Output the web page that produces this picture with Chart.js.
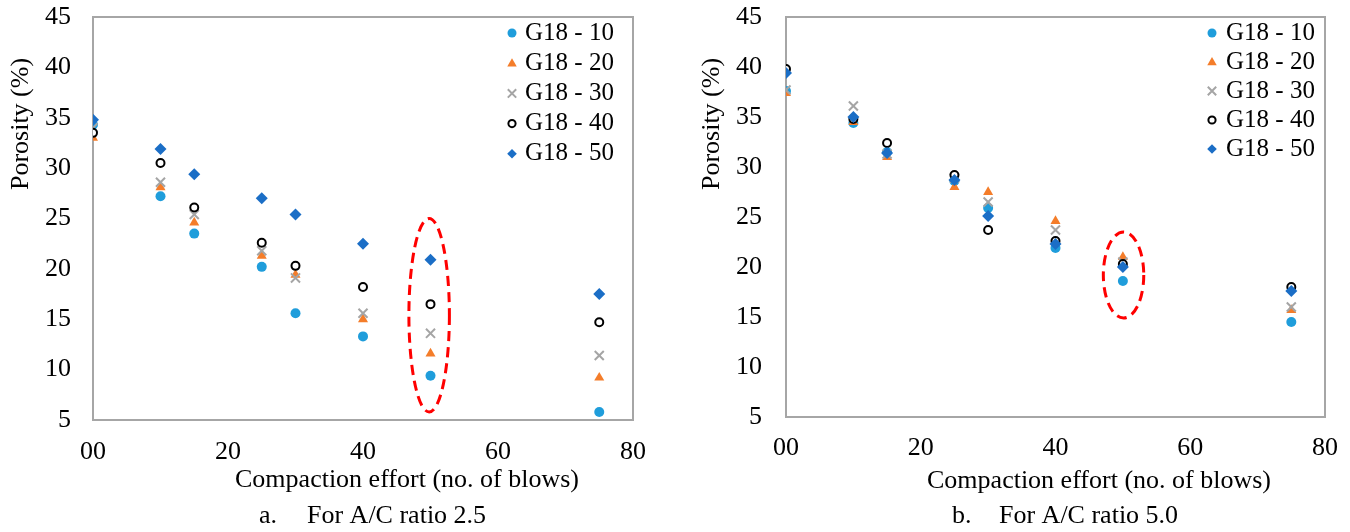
<!DOCTYPE html>
<html>
<head>
<meta charset="utf-8">
<script src="https://cdn.jsdelivr.net/npm/chart.js@4/dist/chart.umd.min.js"></script>
<style>
  html, body { margin: 0; padding: 0; background: #fff; }
  #wrap { position: relative; width: 1350px; height: 532px; }
  .panel { position: absolute; top: 0; width: 675px; height: 532px; }
</style>
</head>
<body>
<div id="wrap">
  <div class="panel" style="left:0"><canvas id="chartA" width="675" height="532"></canvas></div>
  <div class="panel" style="left:675px"><canvas id="chartB" width="675" height="532"></canvas></div>
</div>
<script>
// compaction effort (no. of blows)
const blows = [0, 10, 15, 25, 30, 40, 50, 75];
const seriesNames = ["G18 - 10", "G18 - 20", "G18 - 30", "G18 - 40", "G18 - 50"];
const xTicks = [0, 20, 40, 60, 80];
const xTickLabels = ["00", "20", "40", "60", "80"];

// a. A/C ratio 2.5
const g10A = [34.3, 27.2, 23.5, 20.2, 15.6, 13.3, 9.4, 5.8];
const g20A = [33.0, 28.1, 24.6, 21.3, 19.4, 15.0, 11.6, 9.2];
const g30A = [34.0, 28.6, 25.4, 21.8, 19.1, 15.6, 13.6, 11.4];
const g40A = [33.5, 30.5, 26.1, 22.6, 20.3, 18.2, 16.5, 14.7];
const g50A = [34.8, 31.9, 29.4, 27.0, 25.4, 22.5, 20.9, 17.5];

// b. A/C ratio 5.0
const g10B = [37.6, 34.4, 31.5, 28.6, 25.9, 21.9, 18.6, 14.5];
const g20B = [37.4, 34.5, 31.0, 28.0, 27.5, 24.6, 21.0, 15.7];
const g30B = [37.7, 36.1, 31.3, 28.9, 26.5, 23.7, 20.5, 16.0];
const g40B = [39.8, 34.8, 32.4, 29.2, 23.7, 22.6, 20.3, 18.0];
const g50B = [39.4, 35.0, 31.4, 28.7, 25.1, 22.3, 20.0, 17.6];

// highlighted ovals (data units: centre, half-width, half-height)
const ovalA = { x: 49.8, y: 15.4, rx: 3.0, ry: 9.6 };
const ovalB = { x: 50.1, y: 19.2, rx: 3.0, ry: 4.3 };

const FONT = "'Liberation Serif', 'Times New Roman', serif";

// radius = plot marker, lr = legend marker
const markers = [
  { pointStyle: "circle",   radius: 5.0, lr: 4.5, bg: "#1f9ddb", border: "#1f9ddb", bw: 0 },
  { pointStyle: "triangle", radius: 5.8, lr: 5.0, bg: "#f47d2a", border: "#f47d2a", bw: 0 },
  { pointStyle: "crossRot", radius: 6.4, lr: 6.0, bg: "#a5a5a5", border: "#a5a5a5", bw: 2 },
  { pointStyle: "circle",   radius: 4.0, lr: 3.6, bg: "#ffffff", border: "#000000", bw: 2 },
  { pointStyle: "rectRot",  radius: 6.0, lr: 4.8, bg: "#1b6ec6", border: "#1b6ec6", bw: 0 },
];

function toPoints(ys) {
  return blows.map((b, i) => ({ x: b, y: ys[i] }));
}

function makeDatasets(lists) {
  return lists.map((ys, i) => ({
    label: seriesNames[i],
    data: toPoints(ys),
    pointStyle: markers[i].pointStyle,
    pointRadius: markers[i].radius,
    pointHoverRadius: markers[i].radius,
    pointBackgroundColor: markers[i].bg,
    pointBorderColor: markers[i].border,
    pointBorderWidth: markers[i].bw,
    backgroundColor: markers[i].bg,
    borderColor: markers[i].border,
    order: lists.length - i,
  }));
}

function drawMarker(ctx, m, x, y, r) {
  ctx.save();
  ctx.fillStyle = m.bg;
  ctx.strokeStyle = m.border;
  ctx.lineWidth = m.bw;
  ctx.beginPath();
  if (m.pointStyle === "circle") {
    ctx.arc(x, y, r, 0, Math.PI * 2);
    ctx.fill();
    if (m.bw) ctx.stroke();
  } else if (m.pointStyle === "triangle") {
    ctx.moveTo(x, y - r);
    ctx.lineTo(x + r * 0.95, y + r * 0.65);
    ctx.lineTo(x - r * 0.95, y + r * 0.65);
    ctx.closePath();
    ctx.fill();
  } else if (m.pointStyle === "crossRot") {
    ctx.moveTo(x - r * 0.7, y - r * 0.7); ctx.lineTo(x + r * 0.7, y + r * 0.7);
    ctx.moveTo(x + r * 0.7, y - r * 0.7); ctx.lineTo(x - r * 0.7, y + r * 0.7);
    ctx.stroke();
  } else if (m.pointStyle === "rectRot") {
    ctx.moveTo(x, y - r); ctx.lineTo(x + r, y); ctx.lineTo(x, y + r); ctx.lineTo(x - r, y);
    ctx.closePath();
    ctx.fill();
  }
  ctx.restore();
}

const framePlugin = {
  id: "frame",
  beforeDatasetsDraw(chart) {
    const { ctx, chartArea: a } = chart;
    ctx.save();
    ctx.strokeStyle = "#a6a6a6";
    ctx.lineWidth = 2;
    ctx.strokeRect(a.left, a.top, a.right - a.left, a.bottom - a.top);
    ctx.restore();
  },
  afterDatasetsDraw(chart, args, opts) {
    const { ctx, scales } = chart;
    const o = opts.oval;
    if (!o) return;
    const cx = scales.x.getPixelForValue(o.x);
    const cy = scales.y.getPixelForValue(o.y);
    const rx = Math.abs(scales.x.getPixelForValue(o.x + o.rx) - cx);
    const ry = Math.abs(scales.y.getPixelForValue(o.y + o.ry) - cy);
    ctx.save();
    ctx.strokeStyle = "#ff0000";
    ctx.lineWidth = 3;
    ctx.setLineDash([10, 6]);
    ctx.beginPath();
    ctx.ellipse(cx, cy, rx, ry, 0, 0, Math.PI * 2);
    ctx.stroke();
    ctx.restore();
  },
  afterDraw(chart, args, opts) {
    const { ctx } = chart;
    ctx.save();
    ctx.fillStyle = "#000";
    ctx.textBaseline = "middle";

    // y axis title
    ctx.save();
    ctx.font = "26px " + FONT;
    ctx.translate(opts.yTitle.x, opts.yTitle.y);
    ctx.rotate(-Math.PI / 2);
    ctx.textAlign = "center";
    ctx.fillText("Porosity (%)", 0, 0);
    ctx.restore();

    // x axis title
    ctx.font = "26px " + FONT;
    ctx.textAlign = "center";
    ctx.fillText("Compaction effort (no. of blows)", opts.xTitle.x, opts.xTitle.y);

    // caption
    ctx.textAlign = "left";
    ctx.fillText(opts.caption.tag, opts.caption.tagX, opts.caption.y);
    ctx.fillText(opts.caption.text, opts.caption.textX, opts.caption.y);

    // legend
    ctx.font = "25px " + FONT;
    chart.data.datasets.forEach((ds, i) => {
      const y = opts.legend.y + i * opts.legend.step;
      drawMarker(ctx, markers[i], opts.legend.markerX, y, markers[i].lr);
      ctx.fillStyle = "#000";
      ctx.fillText(ds.label, opts.legend.textX, y);
    });
    ctx.restore();
  },
};

function buildChart(canvasId, lists, cfg) {
  return new Chart(document.getElementById(canvasId), {
    type: "scatter",
    data: { datasets: makeDatasets(lists) },
    options: {
      responsive: false,
      animation: false,
      events: [],
      layout: { padding: { top: cfg.top, right: cfg.right, left: 0, bottom: 0 } },
      plugins: {
        legend: { display: false },
        tooltip: { enabled: false },
        frame: cfg.frame,
      },
      scales: {
        x: {
          type: "linear",
          min: 0, max: 80,
          afterFit: s => {
            s.height = cfg.xHeight;
            s.paddingLeft = 0; s.paddingRight = 0;
          },
          afterBuildTicks: s => { s.ticks = xTicks.map(v => ({ value: v })); },
          grid: { display: false, drawTicks: false },
          border: { display: false },
          ticks: {
            padding: cfg.xPad,
            color: "#000",
            font: { family: FONT, size: 26 },
            callback: v => xTickLabels[xTicks.indexOf(v)] ?? v,
          },
        },
        y: {
          type: "linear",
          min: 5, max: 45,
          afterFit: s => {
            s.width = cfg.yWidth;
            s.paddingTop = 0; s.paddingBottom = 0;
          },
          grid: { display: false, drawTicks: false },
          border: { display: false },
          ticks: {
            stepSize: 5,
            padding: cfg.yPad,
            color: "#000",
            font: { family: FONT, size: 26 },
          },
        },
      },
    },
    plugins: [framePlugin],
  });
}

buildChart("chartA", [g10A, g20A, g30A, g40A, g50A], {
  top: 17, right: 42, yWidth: 93, xHeight: 112, xPad: 17, yPad: 22,
  frame: {
    oval: ovalA,
    yTitle: { x: 21, y: 124 },
    xTitle: { x: 407, y: 480 },
    caption: { tag: "a.", tagX: 259, text: "For A/C ratio 2.5", textX: 307, y: 516 },
    legend: { markerX: 512, textX: 525, y: 33, step: 30.2 },
  },
});

buildChart("chartB", [g10B, g20B, g30B, g40B, g50B], {
  top: 17, right: 25, yWidth: 111, xHeight: 115, xPad: 16, yPad: 24,
  frame: {
    oval: ovalB,
    yTitle: { x: 37, y: 124 },
    xTitle: { x: 424, y: 481 },
    caption: { tag: "b.", tagX: 277, text: "For A/C ratio 5.0", textX: 324, y: 516 },
    legend: { markerX: 537, textX: 551, y: 33, step: 29 },
  },
});
</script>
</body>
</html>
